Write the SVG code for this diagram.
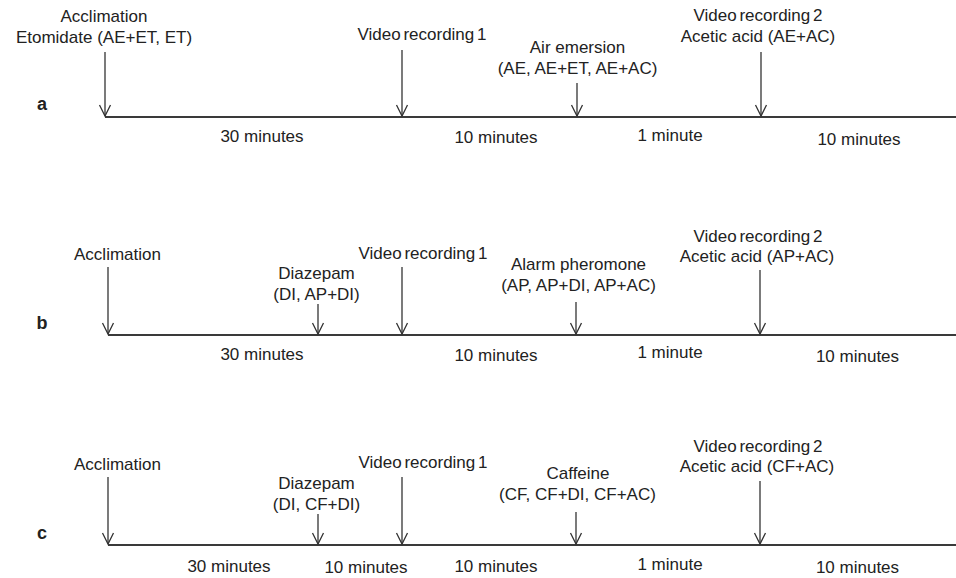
<svg xmlns="http://www.w3.org/2000/svg" width="956" height="578" viewBox="0 0 956 578">
<defs>
<marker id="arr" markerUnits="userSpaceOnUse" markerWidth="16" markerHeight="16" viewBox="-13 -8 16 16" refX="0" refY="0" orient="auto">
<path d="M-11,-5.5 L0,0 L-11,5.5" fill="none" stroke="#333" stroke-width="1.3"/>
</marker>
<style>
text{font-family:"Liberation Sans",Arial,sans-serif;font-size:17px;fill:#222;text-anchor:middle}
.lbl{font-weight:bold;font-size:18px}
.vr{word-spacing:-2px}
.axis{stroke:#3a3a3a;stroke-width:1.8;fill:none}
.arrow{stroke:#333;stroke-width:1.3;fill:none;marker-end:url(#arr)}
</style>
</defs>
<rect width="956" height="578" fill="#fff"/>

<g id="connectors">
<line class="axis" x1="105" y1="117" x2="956" y2="117"/>
<line class="axis" x1="108" y1="335" x2="956" y2="335"/>
<line class="axis" x1="108" y1="545" x2="956" y2="545"/>
<line class="arrow" x1="105" y1="52" x2="105" y2="116"/>
<line class="arrow" x1="402" y1="50" x2="402" y2="116"/>
<line class="arrow" x1="577" y1="83" x2="577" y2="116"/>
<line class="arrow" x1="761" y1="52" x2="761" y2="116"/>
<line class="arrow" x1="108" y1="267" x2="108" y2="334"/>
<line class="arrow" x1="318" y1="304" x2="318" y2="334"/>
<line class="arrow" x1="402" y1="267" x2="402" y2="334"/>
<line class="arrow" x1="576" y1="302" x2="576" y2="334"/>
<line class="arrow" x1="760" y1="270" x2="760" y2="334"/>
<line class="arrow" x1="108" y1="477" x2="108" y2="544"/>
<line class="arrow" x1="318" y1="514" x2="318" y2="544"/>
<line class="arrow" x1="402" y1="477" x2="402" y2="544"/>
<line class="arrow" x1="576" y1="512" x2="576" y2="544"/>
<line class="arrow" x1="760" y1="481" x2="760" y2="544"/>
</g>

<g id="panel-a">
<text class="lbl" x="42" y="110">a</text>
<g id="a-acclimation"><text x="104" y="22">Acclimation</text><text x="104" y="43">Etomidate (AE+ET, ET)</text></g>
<g id="a-video1"><text class="vr" x="422" y="40">Video recording 1</text></g>
<g id="a-air"><text x="577.5" y="53">Air emersion</text><text x="577.5" y="74">(AE, AE+ET, AE+AC)</text></g>
<g id="a-video2"><text class="vr" x="758" y="21">Video recording 2</text><text x="758" y="42">Acetic acid (AE+AC)</text></g>
<g id="a-times"><text x="262" y="142">30 minutes</text><text x="496" y="143">10 minutes</text><text x="670" y="141">1 minute</text><text x="859" y="145">10 minutes</text></g>
</g>

<g id="panel-b">
<text class="lbl" x="42" y="329">b</text>
<g id="b-acclimation"><text x="117.5" y="260">Acclimation</text></g>
<g id="b-diazepam"><text x="316.5" y="279">Diazepam</text><text x="316.5" y="300">(DI, AP+DI)</text></g>
<g id="b-video1"><text class="vr" x="423" y="259">Video recording 1</text></g>
<g id="b-alarm"><text x="578.5" y="270">Alarm pheromone</text><text x="578.5" y="291">(AP, AP+DI, AP+AC)</text></g>
<g id="b-video2"><text class="vr" x="758" y="242">Video recording 2</text><text x="757" y="262">Acetic acid (AP+AC)</text></g>
<g id="b-times"><text x="262" y="360">30 minutes</text><text x="496" y="361">10 minutes</text><text x="670" y="358">1 minute</text><text x="857.5" y="362">10 minutes</text></g>
</g>

<g id="panel-c">
<text class="lbl" x="42" y="539">c</text>
<g id="c-acclimation"><text x="117.5" y="470">Acclimation</text></g>
<g id="c-diazepam"><text x="316.5" y="489">Diazepam</text><text x="316.5" y="510">(DI, CF+DI)</text></g>
<g id="c-video1"><text class="vr" x="423" y="468">Video recording 1</text></g>
<g id="c-caffeine"><text x="578" y="479">Caffeine</text><text x="577.5" y="500">(CF, CF+DI, CF+AC)</text></g>
<g id="c-video2"><text class="vr" x="758" y="452">Video recording 2</text><text x="757" y="472">Acetic acid (CF+AC)</text></g>
<g id="c-times"><text x="229" y="572">30 minutes</text><text x="366" y="573">10 minutes</text><text x="496" y="572">10 minutes</text><text x="670" y="570">1 minute</text><text x="857.5" y="573">10 minutes</text></g>
</g>
</svg>
